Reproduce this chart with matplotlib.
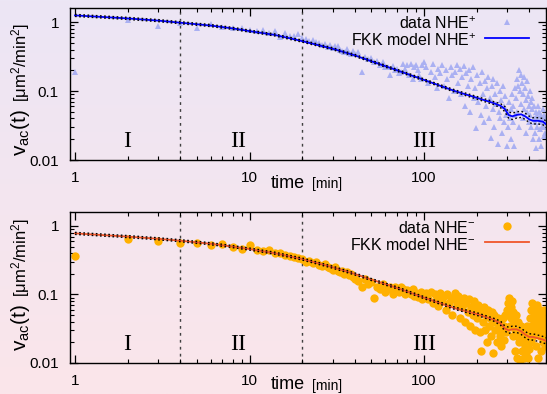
import numpy as np
import matplotlib
matplotlib.use('Agg')
import matplotlib.pyplot as plt
from matplotlib.lines import Line2D
from matplotlib.ticker import FixedLocator, FixedFormatter, NullFormatter, LogLocator

plt.rcParams['font.family'] = ['Liberation Sans', 'DejaVu Sans']
plt.rcParams['mathtext.fontset'] = 'custom'
plt.rcParams['mathtext.rm'] = 'Liberation Sans'
plt.rcParams['mathtext.it'] = 'Liberation Sans:italic'

# ---------------- data ----------------
times_a = [1, 2, 3, 4, 5, 6, 7, 8, 9, 10, 11, 12, 13, 14, 15, 16, 17, 18, 19, 20,
           21, 22, 23, 24, 25, 26, 27, 28, 29, 30, 31, 32, 33, 34, 35, 36, 37, 38, 39, 40]
times_b = [42, 44, 46, 48, 50, 52, 54, 56, 58, 60, 62, 64, 66, 68, 70, 72, 74, 76, 78, 80,
           82, 84, 86, 88, 90, 92, 94, 96, 98, 100]
times_c = [103, 106, 109, 112, 115, 118, 121, 124, 127, 130, 133, 136, 139, 142, 145, 148,
           151, 154, 157, 160, 163, 166, 169, 172, 175, 178, 181, 184, 187, 190, 193, 196, 199]
times_d = [202, 205, 208, 211, 214, 217, 220, 223, 226, 229, 232, 235, 238, 241, 244, 247,
           250, 253, 256, 259, 262, 265, 268, 271, 274, 277, 280, 283, 286, 289, 292, 295, 298]
times_e = [301, 304, 307, 310, 313, 316, 319, 322, 325, 328, 331, 334, 337, 340, 343, 346,
           349, 352, 355, 358, 361, 364, 367, 370, 373, 376, 379, 382, 385, 388, 391, 394, 397, 400]
times_f = [403, 406, 409, 412, 415, 418, 421, 424, 427, 430, 433, 436, 439, 442, 445, 448,
           451, 454, 457, 460, 463, 466, 469, 472, 475, 478, 481, 484, 487, 490, 493, 496, 499]

plus_a = [0.19, 1.07, 0.88, 0.98, 0.83, 0.93, 0.86, 0.83, 0.81, 0.76, 0.74, 0.76, 0.70, 0.74, 0.60,
          0.69, 0.62, 0.63, 0.67, 0.58, 0.56, 0.53, 0.55, 0.51, 0.49, 0.46, 0.48, 0.44, 0.47, 0.42,
          0.45, 0.45, 0.40, 0.38, 0.37, 0.41, 0.36, 0.34, 0.38, 0.35]
plus_b = [0.37, 0.19, 0.31, 0.29, 0.30, 0.26, 0.27, 0.235, 0.26, 0.22, 0.22, 0.17, 0.23, 0.20, 0.21,
          0.18, 0.19, 0.25, 0.21, 0.24, 0.17, 0.25, 0.15, 0.22, 0.235, 0.20, 0.17, 0.15, 0.24, 0.26]
plus_c = [0.22, 0.13, 0.19, 0.25, 0.16, 0.11, 0.21, 0.18, 0.24, 0.12, 0.20, 0.15, 0.078, 0.22, 0.17,
          0.10, 0.19, 0.24, 0.13, 0.21, 0.09, 0.16, 0.23, 0.06, 0.18, 0.12, 0.20, 0.05, 0.15, 0.22,
          0.08, 0.11, 0.029]
plus_d = [0.17, 0.07, 0.13, 0.045, 0.19, 0.09, 0.035, 0.14, 0.06, 0.11, 0.16, 0.04, 0.08, 0.021, 0.12,
          0.055, 0.15, 0.03, 0.09, 0.065, 0.13, 0.017, 0.05, 0.10, 0.04, 0.075, 0.025, 0.12, 0.06,
          0.035, 0.085, 0.045, 0.016]
plus_e = [0.05, 0.03, 0.07, 0.04, 0.02, 0.055, 0.09, 0.035, 0.06, 0.016, 0.045, 0.11, 0.08, 0.15, 0.05,
          0.12, 0.20, 0.03, 0.10, 0.17, 0.065, 0.13, 0.04, 0.09, 0.16, 0.055, 0.11, 0.075, 0.025,
          0.14, 0.05, 0.085, 0.035, 0.06]
plus_f = [0.10, 0.045, 0.07, 0.03, 0.055, 0.08, 0.02, 0.04, 0.06, 0.035, 0.025, 0.05, 0.015, 0.045,
          0.03, 0.06, 0.04, 0.02, 0.05, 0.035, 0.028, 0.045, 0.016, 0.04, 0.03, 0.055, 0.035, 0.022,
          0.045, 0.03, 0.04, 0.025, 0.035]

minus_a = [0.37, 0.64, 0.60, 0.57, 0.57, 0.52, 0.54, 0.50, 0.46, 0.52, 0.45, 0.43, 0.44, 0.40, 0.41,
           0.38, 0.36, 0.35, 0.345, 0.325, 0.30, 0.31, 0.29, 0.30, 0.27, 0.26, 0.28, 0.25, 0.24, 0.23,
           0.25, 0.22, 0.21, 0.22, 0.20, 0.21, 0.19, 0.20, 0.18, 0.17]
minus_b = [0.16, 0.13, 0.17, 0.14, 0.15, 0.09, 0.13, 0.12, 0.14, 0.11, 0.12, 0.13, 0.10, 0.13, 0.12,
           0.11, 0.13, 0.12, 0.10, 0.115, 0.11, 0.10, 0.12, 0.095, 0.105, 0.092, 0.10, 0.11, 0.085, 0.095]
minus_c = [0.104, 0.085, 0.11, 0.075, 0.10, 0.09, 0.068, 0.105, 0.08, 0.095, 0.06, 0.10, 0.075, 0.09,
           0.05, 0.085, 0.105, 0.07, 0.095, 0.045, 0.08, 0.065, 0.09, 0.04, 0.075, 0.055, 0.085, 0.035,
           0.065, 0.05, 0.08, 0.03, 0.06]
minus_d = [0.045, 0.07, 0.028, 0.015, 0.055, 0.04, 0.065, 0.03, 0.05, 0.02, 0.06, 0.035, 0.045, 0.025,
           0.055, 0.04, 0.014, 0.05, 0.03, 0.04, 0.02, 0.045, 0.035, 0.025, 0.04, 0.018, 0.03, 0.045,
           0.022, 0.035, 0.05, 0.028, 0.06]
minus_e = [0.075, 0.05, 0.09, 0.035, 0.065, 0.045, 0.08, 0.025, 0.055, 0.04, 0.015, 0.03, 0.05, 0.012,
           0.025, 0.04, 0.02, 0.03, 0.011, 0.022, 0.035, 0.015, 0.028, 0.02, 0.012, 0.03, 0.018, 0.025,
           0.014, 0.035, 0.02, 0.012, 0.028, 0.016]
minus_f = [0.03, 0.045, 0.02, 0.06, 0.035, 0.075, 0.025, 0.05, 0.04, 0.065, 0.03, 0.055, 0.018, 0.045,
           0.07, 0.035, 0.012, 0.05, 0.03, 0.06, 0.025, 0.04, 0.015, 0.055, 0.03, 0.045, 0.02, 0.035,
           0.06, 0.025, 0.04, 0.018, 0.03]

times = times_a + times_b + times_c + times_d + times_e + times_f
data_plus = plus_a + plus_b + plus_c + plus_d + plus_e + plus_f
data_minus = minus_a + minus_b + minus_c + minus_d + minus_e + minus_f

model_t = [1, 2, 3, 4, 6, 8, 10, 14, 20, 30, 40, 50, 70, 100, 150, 200, 250, 275, 290, 305,
           320, 340, 360, 380, 400, 420, 450, 480, 500]
model_plus = [1.25, 1.13, 1.05, 0.98, 0.89, 0.81, 0.74, 0.65, 0.53, 0.41, 0.33, 0.27, 0.20, 0.145,
              0.10, 0.08, 0.067, 0.061, 0.055, 0.045, 0.043, 0.045, 0.046, 0.043, 0.039, 0.037,
              0.037, 0.036, 0.033]
model_minus = [0.78, 0.70, 0.65, 0.61, 0.55, 0.50, 0.46, 0.40, 0.33, 0.25, 0.20, 0.165, 0.125, 0.09,
               0.063, 0.052, 0.043, 0.038, 0.032, 0.030, 0.031, 0.031, 0.029, 0.026, 0.024, 0.024,
               0.023, 0.022, 0.021]
model_band = [1.035, 1.035, 1.035, 1.035, 1.035, 1.035, 1.035, 1.035, 1.035, 1.035, 1.035, 1.035,
              1.035, 1.035, 1.04, 1.045, 1.05, 1.07, 1.09, 1.11, 1.11, 1.11, 1.11, 1.11, 1.11, 1.11,
              1.11, 1.11, 1.11]

regions = ['I', 'II', 'III']
region_x = [2.0, 8.6, 100]
region_bounds = [4, 20]

# ---------------- figure ----------------
W, H = 547, 394
fig = plt.figure(figsize=(W / 100, H / 100), dpi=100)

bg = fig.add_axes([0, 0, 1, 1], zorder=-10)
g = np.linspace(0, 1, 256)[:, None, None]
c_top = np.array([236, 230, 245]) / 255
c_bot = np.array([251, 229, 234]) / 255
img = c_top[None, None, :] * (1 - g) + c_bot[None, None, :] * g
bg.imshow(img, aspect='auto', extent=[0, 1, 0, 1])
bg.axis('off')


def px_axes(l, t, r, b):
    return fig.add_axes([l / W, 1 - b / H, (r - l) / W, (b - t) / H])


def fx(x):
    return x / W


def fy(y):
    return 1 - y / H


ax1 = px_axes(70, 8, 546, 160)
ax2 = px_axes(70, 212, 546, 363)

panels = [
    (ax1, data_plus, model_plus, '^', '#aab0f2', 5.0, '#0000ff', '+', 0),
    (ax2, data_minus, model_minus, 'o', '#ffb000', 6.0, '#f0562a', '-', 204),
]

t_arr = np.array(model_t, dtype=float)
band = np.array(model_band)

for ax, dvals, mvals, mk, mcol, ms, lcol, sign, off in panels:
    ax.set_facecolor('none')
    ax.set_xscale('log')
    ax.set_yscale('log')
    ax.plot(times, dvals, ls='none', marker=mk, color=mcol, ms=ms, mew=0, zorder=2)
    m = np.array(mvals)
    ax.plot(t_arr, m, color=lcol, lw=1.3, zorder=3)
    ax.plot(t_arr, m * band, color='black', lw=1.0, ls=(0, (1.2, 1.8)), zorder=4)
    ax.plot(t_arr, m / band, color='black', lw=1.0, ls=(0, (1.2, 1.8)), zorder=4)
    for xb in region_bounds:
        ax.axvline(xb, color='0.25', lw=1.0, ls=(0, (2, 3)), zorder=1)
    for lab, xr in zip(regions, region_x):
        ax.text(xr, 0.0185, lab, ha='center', va='center', fontsize=17,
                family=['Liberation Serif', 'DejaVu Serif'])
    ax.set_xlim(0.936, 500)
    ax.set_ylim(0.01, 1.6)
    ax.xaxis.set_major_locator(FixedLocator([1, 10, 100]))
    ax.xaxis.set_major_formatter(FixedFormatter(['1', '10', '100']))
    ax.yaxis.set_major_locator(FixedLocator([0.01, 0.1, 1]))
    ax.yaxis.set_major_formatter(FixedFormatter(['0.01', '0.1', '1']))
    ax.xaxis.set_minor_locator(LogLocator(base=10, subs=np.arange(2, 10)))
    ax.yaxis.set_minor_locator(LogLocator(base=10, subs=np.arange(2, 10)))
    ax.xaxis.set_minor_formatter(NullFormatter())
    ax.yaxis.set_minor_formatter(NullFormatter())
    ax.tick_params(which='both', direction='in', top=True, right=True)
    ax.tick_params(which='major', length=6, width=0.9, labelsize=11, pad=8)
    ax.tick_params(which='minor', length=3, width=0.8)
    for s in ax.spines.values():
        s.set_linewidth(1.0)

    # legend (manual)
    fig.text(fx(476), fy(24 + off), 'data NHE$^{%s}$' % sign, ha='right', va='center', fontsize=11.5)
    fig.text(fx(476), fy(41 + off), 'FKK model NHE$^{%s}$' % sign, ha='right', va='center', fontsize=11.5)
    fig.add_artist(Line2D([fx(507)], [fy(22 + off)], marker=mk, color=mcol, ms=ms, mew=0,
                          ls='none', transform=fig.transFigure))
    fig.add_artist(Line2D([fx(485), fx(529)], [fy(38 + off), fy(38 + off)], color=lcol, lw=1.3,
                          transform=fig.transFigure))

    # axis labels
    fig.text(fx(271), fy(183 + off * 0.99), 'time', ha='left', va='center', fontsize=13)
    fig.text(fx(312), fy(184 + off * 0.99), '[min]', ha='left', va='center', fontsize=10)
    fig.text(fx(21), fy(133 + off * 0.955), 'v$_{\\rm ac}$(t)', rotation=90, ha='center',
             va='center', fontsize=15)
    fig.text(fx(21), fy(63 + off * 0.955), '[\u03bcm$^2$/min$^2$]', rotation=90, ha='center',
             va='center', fontsize=12)

fig.savefig('out.png', dpi=100)
